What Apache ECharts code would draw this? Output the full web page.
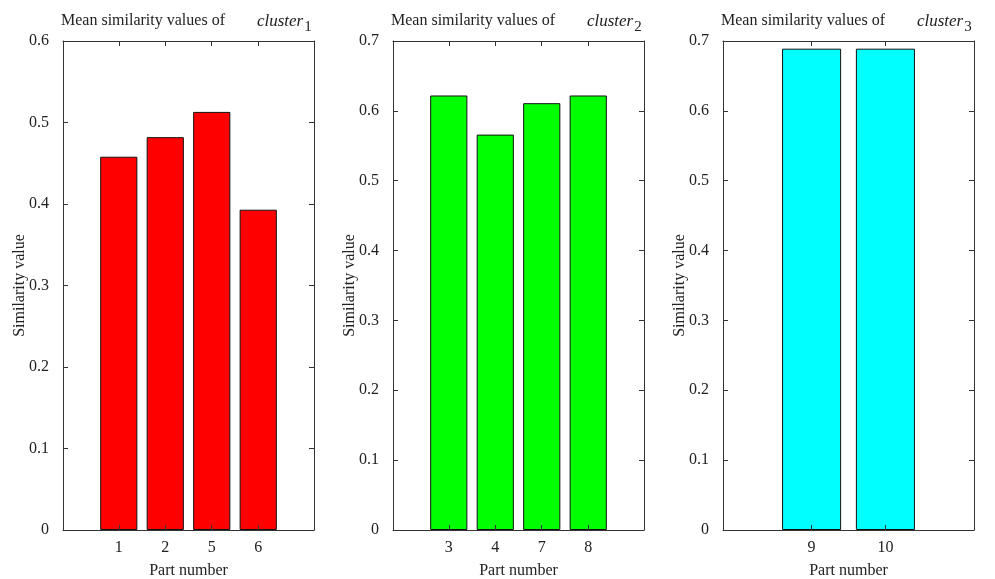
<!DOCTYPE html>
<html>
<head>
<meta charset="utf-8">
<script src="https://cdn.jsdelivr.net/npm/echarts@6/dist/echarts.min.js"></script>
<style>
html,body{margin:0;padding:0;background:#fff;}
#c{width:995px;height:579px;}
</style>
</head>
<body>
<div id="c"></div>
<script>
// ---- data ----
const parts1 = ['1', '2', '5', '6'];
const values1 = [0.458, 0.482, 0.513, 0.393];
const parts2 = ['3', '4', '7', '8'];
const values2 = [0.622, 0.566, 0.611, 0.622];
const parts3 = ['9', '10'];
const values3 = [0.689, 0.689];
const yMax = [0.6, 0.7, 0.7];
const yTicksStep = 0.1;
const clusterIndex = ['1', '2', '3'];
const barColors = ['#ff0000', '#00ff00', '#00ffff'];

const panels = [
  {parts: parts1, values: values1},
  {parts: parts2, values: values2},
  {parts: parts3, values: values3}
];

const FONT = '"Liberation Serif", "Times New Roman", serif';
const lefts = [63, 393, 723];
const gridW = 251, gridTop = 41, gridH = 489;
const axisColor = '#333';
const textColor = '#222';
const TICK = 5;

const grids = [], xAxes = [], yAxes = [], series = [], titles = [];
panels.forEach((p, i) => {
  const n = p.parts.length;
  const xmin = -0.2, xmax = n + 1.2;
  const pos = p.parts.map((_, k) => k + 1);
  const unitPx = gridW / (xmax - xmin);
  grids.push({left: lefts[i], top: gridTop, width: gridW, height: gridH, outerBoundsMode: 'none', containLabel: false});
  const labelMap = {};
  pos.forEach((v, k) => labelMap[v] = p.parts[k]);
  const line = {show: true, onZero: false, lineStyle: {color: axisColor, width: 1}};
  xAxes.push({
    type: 'value', gridIndex: i, min: xmin, max: xmax, position: 'bottom', z: 5,
    name: 'Part number', nameLocation: 'middle', nameGap: 33, nameMoveOverlap: false,
    nameTextStyle: {fontFamily: FONT, fontSize: 16, color: textColor},
    axisLine: line,
    axisTick: {show: true, inside: true, length: TICK, customValues: pos, lineStyle: {color: axisColor}},
    axisLabel: {show: true, customValues: pos, margin: 10, fontFamily: FONT, fontSize: 16, color: textColor,
      formatter: v => labelMap[v] !== undefined ? labelMap[v] : ''},
    splitLine: {show: false}
  });
  xAxes.push({
    type: 'value', gridIndex: i, min: xmin, max: xmax, position: 'top', z: 5,
    axisLine: line,
    axisTick: {show: true, inside: true, length: TICK, customValues: pos, lineStyle: {color: axisColor}},
    axisLabel: {show: false},
    splitLine: {show: false}
  });
  yAxes.push({
    type: 'value', gridIndex: i, min: 0, max: yMax[i], interval: yTicksStep, position: 'left', z: 5,
    name: 'Similarity value', nameLocation: 'middle', nameGap: 35, nameMoveOverlap: false,
    nameTextStyle: {fontFamily: FONT, fontSize: 16, color: textColor},
    axisLine: line,
    axisTick: {show: true, inside: true, length: TICK, lineStyle: {color: axisColor}},
    axisLabel: {margin: 14, fontFamily: FONT, fontSize: 16, color: textColor,
      formatter: v => (Math.round(v * 10) / 10).toString()},
    splitLine: {show: false}
  });
  yAxes.push({
    type: 'value', gridIndex: i, min: 0, max: yMax[i], interval: yTicksStep, position: 'right', z: 5,
    axisLine: line,
    axisTick: {show: true, inside: true, length: TICK, lineStyle: {color: axisColor}},
    axisLabel: {show: false},
    splitLine: {show: false}
  });
  series.push({
    type: 'bar', xAxisIndex: 2 * i, yAxisIndex: 2 * i,
    data: p.values.map((v, k) => [pos[k], v]),
    barWidth: 0.8 * unitPx,
    itemStyle: {color: barColors[i], borderColor: '#111', borderWidth: 1},
    emphasis: {disabled: true},
    animation: false
  });
  titles.push({
    text: '{n|Mean similarity values of}{i|cluster}{s|' + clusterIndex[i] + '}',
    left: lefts[i] - 2, top: 13, padding: 0,
    textStyle: {
      fontWeight: 'normal',
      rich: {
        n: {fontFamily: FONT, fontSize: 16, fontWeight: 'normal', color: textColor, lineHeight: 20, verticalAlign: 'top'},
        i: {fontFamily: FONT, fontSize: 17, fontWeight: 'normal', fontStyle: 'italic', color: textColor, lineHeight: 20, verticalAlign: 'top', padding: [0, 0, 0, 32]},
        s: {fontFamily: FONT, fontSize: 15, fontWeight: 'normal', color: textColor, lineHeight: 20, verticalAlign: 'top', padding: [7, 0, 0, 1]}
      }
    }
  });
});

const chart = echarts.init(document.getElementById('c'), null, {renderer: 'canvas'});
chart.setOption({
  backgroundColor: '#fff',
  animation: false,
  title: titles,
  grid: grids,
  xAxis: xAxes,
  yAxis: yAxes,
  series: series
});
</script>
</body>
</html>
